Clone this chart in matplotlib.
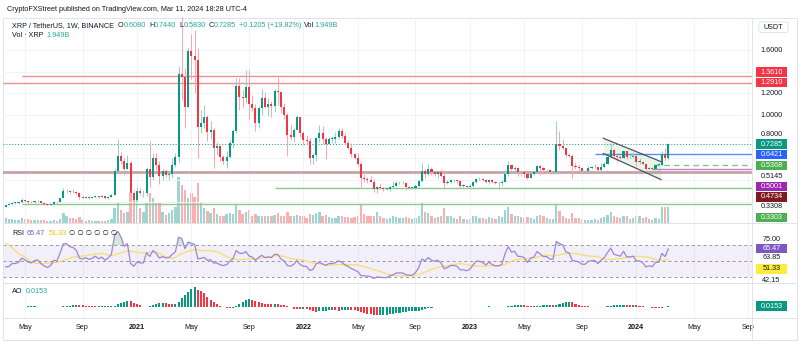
import numpy as np
import pandas as pd
import matplotlib
matplotlib.use('Agg')
import matplotlib.pyplot as plt
import matplotlib.dates as mdates
from matplotlib.patches import Rectangle, FancyBboxPatch

plt.rcParams['font.family'] = ['Liberation Sans', 'DejaVu Sans']

W, H = 800, 357

# weekly XRP/USDT candles (week starting Monday), first visible week 2020-03-23
first_week = '2020-03-23'
closes_2020 = [.174, .176, .190, .190, .195, .215, .208, .197, .194, .203, .206, .191, .180, .173, .179,
               .199, .197, .233, .300, .301, .290, .287, .277, .243, .238, .245, .238, .243, .253, .243,
               .250, .238, .248, .264, .480, .620, .580, .500, .560, .280, .220]
highs_2020 = [.180, .185, .200, .195, .199, .236, .227, .207, .205, .207, .215, .209, .192, .184, .183,
              .205, .204, .237, .325, .320, .310, .317, .300, .290, .252, .252, .246, .247, .256, .258,
              .259, .252, .258, .271, .500, .780, .660, .600, .630, .580, .310]
lows_2020 = [.150, .166, .170, .178, .182, .193, .198, .181, .188, .190, .197, .185, .175, .170, .172,
             .177, .192, .195, .232, .278, .276, .282, .270, .223, .232, .236, .225, .236, .241, .238,
             .242, .230, .229, .244, .264, .470, .550, .450, .500, .220, .170]

closes_2021 = [.30, .28, .28, .50, .43, .60, .54, .44, .48, .45, .46, .54, .61, 1.38, 1.35, 1.07, 1.59,
               1.54, 1.51, .89, .93, .98, .84, .86, .70, .71, .61, .58, .61, .74, .85, 1.27, 1.17, 1.16,
               1.26, 1.10, 1.06, .93, 1.06, 1.16, 1.07, 1.10, 1.08, 1.22, 1.21, 1.07, 1.00, .82, .80,
               .86, .98, .83]
highs_2021 = [.34, .33, .31, .52, .76, .65, .65, .58, .50, .50, .49, .60, .65, 1.45, 1.96, 1.43, 1.62,
              1.75, 1.78, 1.62, 1.05, 1.09, 1.00, .94, .88, .75, .72, .63, .67, .77, .87, 1.34, 1.34,
              1.23, 1.41, 1.41, 1.18, 1.10, 1.08, 1.24, 1.21, 1.16, 1.13, 1.24, 1.35, 1.21, 1.11, 1.02,
              .91, .88, 1.00, .95]
lows_2021 = [.21, .26, .24, .25, .34, .40, .49, .36, .40, .43, .40, .42, .52, .57, 1.14, .88, 1.07,
             1.33, 1.20, .60, .83, .88, .76, .78, .51, .63, .58, .55, .51, .60, .70, .83, 1.05, 1.07,
             1.11, .96, 1.04, .85, .88, 1.00, 1.06, .99, .98, 1.03, 1.09, 1.02, .96, .62, .77, .75,
             .88, .80]

closes_2022 = [.77, .76, .60, .63, .79, .83, .78, .73, .78, .78, .80, .85, .81, .74, .70, .64, .60, .55,
               .42, .41, .40, .38, .32, .34, .33, .32, .32, .34, .35, .37, .37, .37, .34, .33, .33, .35,
               .39, .48, .46, .50, .47, .46, .47, .44, .37, .38, .40, .40, .39, .35, .35, .34]
highs_2022 = [.85, .82, .79, .65, .80, .91, .90, .80, .80, .81, .84, .88, .88, .83, .77, .74, .65, .65,
              .57, .46, .43, .44, .41, .35, .37, .34, .33, .35, .39, .39, .39, .39, .38, .35, .34, .36,
              .40, .56, .50, .55, .52, .47, .48, .50, .47, .40, .41, .41, .40, .40, .36, .35]
lows_2022 = [.72, .72, .55, .55, .58, .75, .73, .59, .73, .74, .74, .78, .79, .73, .69, .61, .59, .53,
             .33, .38, .37, .38, .29, .28, .32, .30, .31, .30, .33, .34, .36, .36, .31, .32, .32, .32,
             .34, .38, .42, .45, .45, .44, .42, .43, .32, .36, .37, .38, .37, .33, .33, .33]

closes_2023 = [.35, .38, .41, .41, .40, .38, .40, .38, .37, .37, .38, .46, .54, .50, .51, .47, .47, .46,
               .42, .46, .47, .53, .51, .49, .49, .47, .47, .73, .71, .70, .63, .62, .53, .52, .51, .48,
               .48, .51, .52, .52, .49, .52, .55, .61, .68, .62, .61, .60, .67, .61, .61, .62]
highs_2023 = [.36, .39, .42, .43, .42, .41, .41, .41, .39, .39, .40, .49, .58, .54, .53, .52, .48, .47,
              .46, .47, .48, .54, .54, .52, .50, .50, .49, .94, .85, .78, .70, .65, .64, .56, .55, .51,
              .49, .53, .53, .55, .52, .56, .57, .62, .74, .69, .63, .63, .67, .65, .63, .66]
lows_2023 = [.33, .34, .37, .40, .39, .37, .36, .37, .36, .32, .35, .38, .44, .49, .48, .44, .44, .43,
             .41, .42, .45, .47, .45, .46, .47, .46, .46, .46, .68, .69, .61, .61, .42, .50, .48, .47,
             .47, .49, .50, .51, .47, .48, .52, .55, .60, .60, .57, .59, .60, .59, .60, .61]

closes_2024 = [.57, .57, .55, .50, .51, .50, .54, .54, .64, .608, .7285]
highs_2024 = [.63, .60, .58, .55, .52, .52, .55, .56, .67, .70, .744]
lows_2024 = [.53, .55, .55, .49, .49, .49, .50, .53, .53, .58, .583]

# volume in billions XRP
volume_2020 = [.6, .5, .5, .4, .4, .6, .5, .5, .4, .4, .4, .4, .4, .3, .3, .4, .3, .5, 1.2, .8, .6,
               .6, .5, .7, .4, .3, .4, .3, .3, .3, .3, .3, .4, .5, 1.8, 2.6, 1.6, 1.2, 1.4, 3.6, 3.0]
volume_2021 = [3.0, 1.8, 1.4, 2.4, 3.6, 3.0, 2.4, 2.6, 1.3, 1.0, 1.2, 1.6, 2.0, 5.6, 4.6, 4.0, 3.0,
               3.6, 3.2, 4.9, 2.6, 1.8, 1.5, 1.2, 1.8, 1.1, .9, .8, 1.1, 1.2, 1.1, 2.2, 1.6, 1.1,
               1.4, 1.6, .9, 1.1, .8, .9, .8, .8, .8, 1.0, 1.2, .9, .8, 1.3, .9, .8, 1.0, .8]
volume_2022 = [.8, .6, 1.1, 1.0, 1.2, 1.3, .8, 1.0, .7, .6, .6, .9, .8, .7, .7, .6, .7, .8, 2.2, 1.1,
               .9, .8, .9, 1.4, .8, .6, .5, .6, .8, .7, .6, .6, .7, .6, .5, .6, .9, 2.4, 1.4, 1.2,
               .9, .6, .7, .9, 1.8, .9, .8, .6, .5, .8, .5, .4]
volume_2023 = [.5, .8, .8, .6, .6, .5, .7, .6, .5, .8, .7, 1.6, 2.0, 1.1, .9, .9, .7, .6, .7, .6,
               .5, .8, 1.0, .8, .6, .5, .5, 2.2, 1.5, .8, .6, .5, 1.2, .6, .6, .4, .4, .4, .4, .5,
               .4, .6, .7, 1.0, 1.4, .9, .7, .6, .9, .8, .5, .6]
volume_2024 = [.8, .8, .6, .7, .5, .4, .6, .5, 1.9, 2.0, 1.949]

# earlier weekly closes (Dec 2019 - Mar 2020), off-screen, only to seed RSI
warmup_closes = [.187, .187, .192, .209, .241, .228, .245, .273, .301, .272, .232, .238, .155, .150]

# drawings
red_levels = [1.361, 1.291]
red_starts = ['2020-04-27', '2020-03-16']
price_line = 0.7285
blue_level, blue_start = 0.6421, '2023-10-02'
dash_level, dash_start = 0.5368, '2024-02-08'
purple_level, purple_start = 0.5001, '2024-02-05'
brown_level = 0.4734
green_levels = [0.3308, 0.1803]
green_starts = ['2021-11-01', '2020-04-27']
chan_dates = ['2023-10-21', '2024-02-24']
chan_upper = [0.785, 0.570]
chan_lower = [0.645, 0.405]

closes = np.array(closes_2020 + closes_2021 + closes_2022 + closes_2023 + closes_2024)
highs = np.array(highs_2020 + highs_2021 + highs_2022 + highs_2023 + highs_2024)
lows = np.array(lows_2020 + lows_2021 + lows_2022 + lows_2023 + lows_2024)
volume = np.array(volume_2020 + volume_2021 + volume_2022 + volume_2023 + volume_2024)
dates = pd.date_range(first_week, periods=len(closes), freq='W-MON')
opens = np.concatenate([[warmup_closes[-1]], closes[:-1]])
opens[-1] = 0.6080
up = closes >= opens

# RSI 14 + its 14 SMA
allc = pd.Series(warmup_closes + list(closes))
d = allc.diff()
g = d.clip(lower=0).ewm(alpha=1 / 14, adjust=False).mean()
l = (-d.clip(upper=0)).ewm(alpha=1 / 14, adjust=False).mean()
rsi_all = 100 - 100 / (1 + g / l)
rsi_ma_all = rsi_all.rolling(14, min_periods=1).mean()
n0 = len(warmup_closes)
rsi = rsi_all.values[n0:]
rsi_ma = rsi_ma_all.values[n0:]

# Awesome oscillator
med = pd.Series((highs + lows) / 2)
ao = (med.rolling(5, min_periods=1).mean() - med.rolling(34, min_periods=1).mean()).values
ao_up = np.concatenate([[True], np.diff(ao) >= 0])

UP, DN = '#089981', '#f23645'
GRID = '#f0f3fa'
TXT = '#131722'

fig = plt.figure(figsize=(W / 100, H / 100), dpi=100)


def rect(top, bottom):
    return [3 / W, 1 - bottom / H, 749 / W, (bottom - top) / H]


ax = fig.add_axes(rect(17, 223))
ax_rsi = fig.add_axes(rect(223, 283), sharex=ax)
ax_ao = fig.add_axes(rect(283, 318), sharex=ax)

x0, x1 = pd.Timestamp('2020-03-17'), pd.Timestamp('2024-09-10')
ax.set_xlim(x0, x1)

# month ticks like TradingView (first weekly bar of Jan/May/Sep)
weeks = pd.date_range(x0, x1, freq='W-MON')
tick_dates, tick_labels = [], []
for dt in weeks:
    if dt.month in (1, 5, 9) and dt.day <= 7:
        tick_dates.append(dt)
        tick_labels.append(str(dt.year) if dt.month == 1 else dt.strftime('%b'))

for a in (ax, ax_rsi, ax_ao):
    for s in a.spines.values():
        s.set_visible(False)
    a.set_xticks(tick_dates)
    a.tick_params(length=0, labelleft=False, labelbottom=False)
    a.grid(True, axis='x', color=GRID, lw=0.7)
    a.set_axisbelow(True)

# volume overlay
ax_vol = ax.twinx()
ax_vol.bar(dates, volume, width=5, color=np.where(up, '#26a69a', '#ef5350'), alpha=0.45, lw=0)
ax_vol.set_ylim(0, 206 / 8.2)
ax_vol.axis('off')
ax.set_zorder(ax_vol.get_zorder() + 1)
ax.patch.set_visible(False)

# price pane
ax.set_ylim(0.0046, 1.903)
ax.set_yticks(np.arange(0.2, 1.7, 0.2))
ax.grid(True, axis='y', color=GRID, lw=0.7)
ax.vlines(dates, lows, highs, color=np.where(up, '#8fd3c6', '#f7a5ab'), lw=0.7, zorder=3)
body = np.maximum(np.abs(closes - opens), 0.004)
ax.bar(dates, body, bottom=np.minimum(opens, closes), width=4.6,
       color=np.where(up, UP, DN), lw=0, zorder=4)

xr = mdates.date2num(x1)
for lvl, st in zip(red_levels, red_starts):
    ax.hlines(lvl, mdates.date2num(pd.Timestamp(st)), xr, color='#f28b93', lw=1.0, zorder=2)
ax.axhline(price_line, color=UP, lw=0.7, ls=(0, (1, 2)), zorder=2)
ax.hlines(blue_level, mdates.date2num(pd.Timestamp(blue_start)), xr, color='#5b8def', lw=1.0, zorder=2)
ax.hlines(dash_level, mdates.date2num(pd.Timestamp(dash_start)), xr, color='#81c784', lw=1.0,
          ls=(0, (4, 3)), zorder=2)
ax.hlines(purple_level, mdates.date2num(pd.Timestamp(purple_start)), xr, color='#c77dd6', lw=1.0, zorder=2)
ax.axhline(brown_level, color='#c9a2a6', lw=2.0, zorder=2)
for lvl, st in zip(green_levels, green_starts):
    ax.hlines(lvl, mdates.date2num(pd.Timestamp(st)), xr, color='#8bc98e', lw=1.0, zorder=2)

cd = [pd.Timestamp(s) for s in chan_dates]
ax.fill_between(cd, chan_lower, chan_upper, color='#4caf50', alpha=0.12, lw=0, zorder=2)
ax.plot(cd, chan_upper, color='#50535e', lw=0.9, zorder=5)
ax.plot(cd, chan_lower, color='#50535e', lw=0.9, zorder=5)

# RSI pane
ax_rsi.set_ylim(22.05, 97.76)
ax_rsi.set_yticks([])
ax_rsi.axhspan(30, 70, color='#7e57c2', alpha=0.09, lw=0)
for lv in (70, 50, 30):
    ax_rsi.axhline(lv, color='#9598a1', lw=0.7, ls=(0, (3, 3)))
ax_rsi.fill_between(dates, 70, rsi, where=rsi > 70, interpolate=True, color='#4caf50', alpha=0.25, lw=0)
ax_rsi.plot(dates, rsi_ma, color='#f5de6b', lw=0.9)
ax_rsi.plot(dates, rsi, color='#9c86d6', lw=0.9)

# AO pane
sc = ao.max() / 19.4
ax_ao.set_ylim(-11.3 * sc, 23.7 * sc)
ax_ao.set_yticks([])
ax_ao.bar(dates, ao, width=4.6, color=np.where(ao_up, UP, DN), lw=0)
ax_ao.tick_params(labelbottom=True, pad=4.5, labelsize=5.2, labelcolor=TXT)
ax_ao.set_xticklabels(tick_labels)
for t in ax_ao.get_xticklabels():
    if t.get_text().isdigit():
        t.set_fontweight('bold')

# frame and separators
line_c = '#e0e3eb'
fig.add_artist(Rectangle((3 / W, 1 - 340 / H), 794 / W, 322 / H, transform=fig.transFigure,
                         fill=False, ec=line_c, lw=0.7))
for yp in (223, 283, 318):
    fig.add_artist(plt.Line2D([3 / W, 797 / W], [1 - yp / H] * 2, color=line_c, lw=0.7))
fig.add_artist(plt.Line2D([752 / W, 752 / W], [1 - 340 / H, 1 - 18 / H], color=line_c, lw=0.7))

renderer = fig.canvas.get_renderer()


def run(x, y, parts, size=5.2):
    for s, c, gap in parts:
        t = fig.text(x / W, 1 - y / H, s, color=c, fontsize=size, va='center', ha='left')
        x += t.get_window_extent(renderer=renderer).width + gap


GRN = '#22ab94'
fig.text(7 / W, 1 - 9.5 / H, 'CryptoFXStreet published on TradingView.com, Mar 11, 2024 18:28 UTC-4',
         fontsize=5.2, color=TXT, va='center')
run(12, 25.7, [('XRP / TetherUS, 1W, BINANCE', TXT, 4), ('O', TXT, 0), ('0.6080', GRN, 3),
               ('H', TXT, 0), ('0.7440', GRN, 3), ('L', TXT, 0), ('0.5830', GRN, 3),
               ('C', TXT, 0), ('0.7285', GRN, 3), ('+0.1205 (+19.82%)', GRN, 3),
               ('Vol', TXT, 0), ('1.949B', GRN, 0)])
run(12, 35.5, [('Vol · XRP', TXT, 3), ('1.949B', GRN, 0)])
run(12, 233.5, [('RSI', TXT, 3), ('65.47', '#7e57c2', 3), ('51.33', '#e8c400', 3),
                ('∅ ∅ ∅ ∅ ∅ ∅', TXT, 0)])
run(12, 291.7, [('AO', TXT, 3), ('0.0153', GRN, 0)])

# right scale labels
right_labels = [('1.6000', 50, None), ('1.3610', 72, DN), ('1.2910', 82.7, DN),
                ('1.2000', 93.3, None), ('1.0000', 115.7, None), ('0.8000', 135, None),
                ('0.7285', 144, UP), ('0.6421', 154.7, '#2962ff'), ('0.5368', 165.3, '#4caf50'),
                ('0.5145', 176, None), ('0.5001', 186.3, '#9c27b0'), ('0.4734', 197, '#801922'),
                ('0.3308', 206.7, None), ('0.3303', 217.3, '#4caf50'),
                ('75.00', 239.3, None), ('65.47', 248.3, '#7e57c2'), ('63.85', 257.3, None),
                ('51.33', 269, '#ffeb3b'), ('42.15', 280, None), ('0.0153', 306, UP)]
for s, yp, bg in right_labels:
    fc = TXT
    if bg is not None:
        fig.add_artist(Rectangle((756 / W, 1 - (yp + 4.6) / H), 31 / W, 9.2 / H,
                                 transform=fig.transFigure, fc=bg, ec='none'))
        fc = TXT if bg == '#ffeb3b' else 'white'
    fig.text(771.5 / W, 1 - yp / H, s, fontsize=5.2, color=fc, ha='center', va='center')

fig.add_artist(FancyBboxPatch((759 / W, 1 - 32.5 / H), 29 / W, 10.5 / H, transform=fig.transFigure,
                              boxstyle='round,pad=0,rounding_size=0.004', fc='white', ec=line_c, lw=0.7))
fig.text(773.5 / W, 1 - 27.5 / H, 'USDT', fontsize=5.2, color=TXT, ha='center', va='center')

fig.savefig('out.png', dpi=100)
